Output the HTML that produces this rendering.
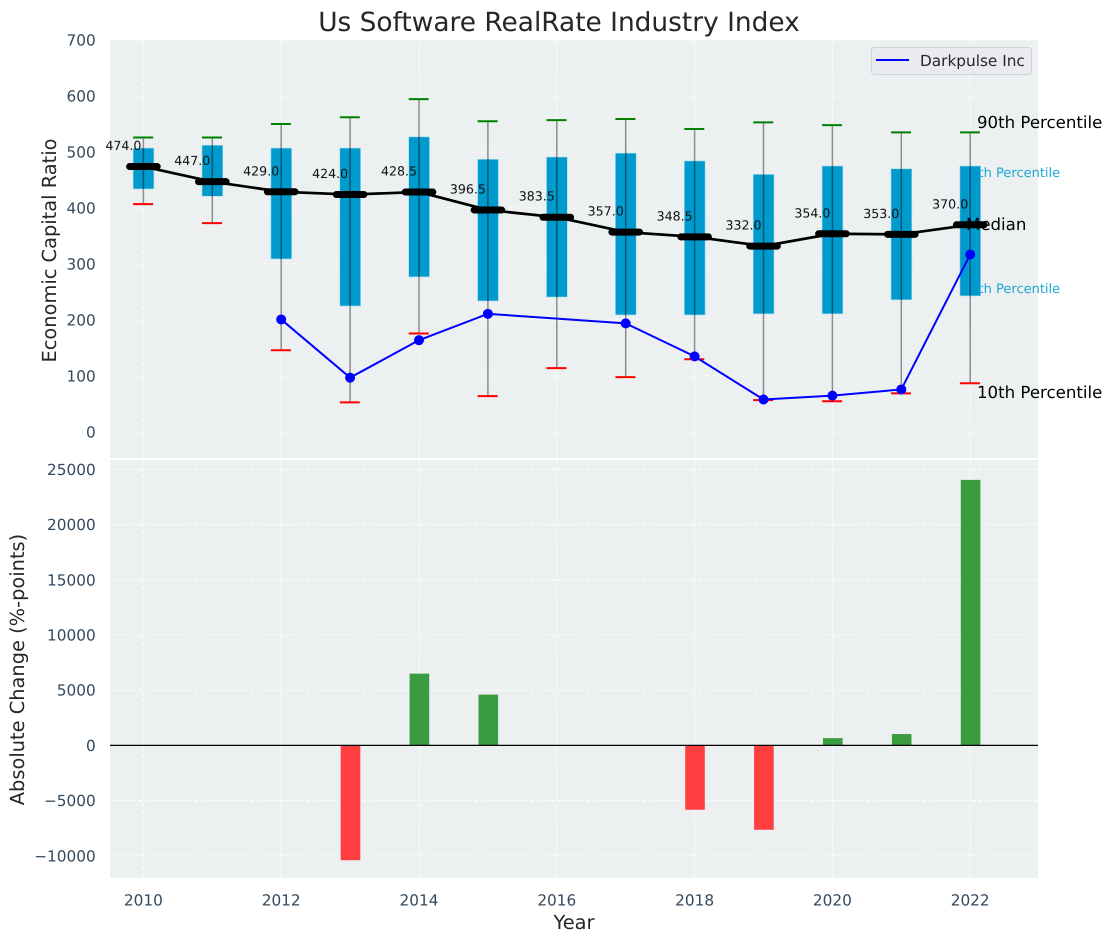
<!DOCTYPE html>
<html lang="en">
<head>
<meta charset="utf-8">
<title>Us Software RealRate Industry Index</title>
<style>
html,body{margin:0;padding:0;background:#fff;width:1112px;height:942px;overflow:hidden}
svg{display:block;font-family:"DejaVu Sans","Liberation Sans",sans-serif;text-rendering:geometricPrecision}
</style>
</head>
<body>
<svg id="chart" width="1112" height="942" viewBox="0 0 1112 942" xmlns="http://www.w3.org/2000/svg">
  <rect x="110" y="40" width="928" height="418" fill="#ecf0f1"/>
  <rect x="110" y="460" width="928" height="418" fill="#ecf0f1"/>
  <g id="grid"></g>
  <text x="962" y="177" font-size="13" fill="#1ea5d5">75th Percentile</text>
  <text x="962" y="293" font-size="13" fill="#1ea5d5">25th Percentile</text>
  <g id="boxes"></g>
  <g id="whiskers"></g>
  <g id="medians"></g>
  <g id="company"></g>
  <g id="bars"></g>
  <line x1="110" x2="1038" y1="745.4" y2="745.4" stroke="#000" stroke-width="1.3"/>
  <g id="ticks"></g>

  <text x="977" y="128" font-size="16.6" fill="#000">90th Percentile</text>
  <text x="966" y="230" font-size="16.6" fill="#000">Median</text>
  <text x="977" y="398" font-size="16.6" fill="#000">10th Percentile</text>

  <text x="559" y="31" font-size="26.4" fill="#262626" text-anchor="middle">Us Software RealRate Industry Index</text>
  <text x="574" y="929" font-size="19.4" fill="#262626" text-anchor="middle">Year</text>
  <text transform="translate(56 250.5) rotate(-90)" font-size="19.4" fill="#262626" text-anchor="middle">Economic Capital Ratio</text>
  <text transform="translate(24 669.5) rotate(-90)" font-size="19.4" fill="#262626" text-anchor="middle">Absolute Change (%-points)</text>

  <g>
    <rect x="871.5" y="47.5" width="160" height="27" rx="3" fill="#e9ebf0" stroke="#cfd1d4"/>
    <line x1="876" x2="909" y1="60" y2="60" stroke="#0000ff" stroke-width="2"/>
    <text x="920" y="66" font-size="15.3" fill="#262626">Darkpulse Inc</text>
  </g>
</svg>
<script>
const years = [2010,2011,2012,2013,2014,2015,2016,2017,2018,2019,2020,2021,2022];
const p90 = [526,526,550,562,594.5,555,557,559,541,553,548,535,535];
const p75 = [507,512,507,507,527,487,491,498,484,460,475,470,475];
const median = [474,447,429,424,428.5,396.5,383.5,357,348.5,332,354,353,370];
const p25 = [434,421,309,225,277,234,241,209,209,211,211,236,243];
const p10 = [407,373,146,53,176,64,114,98,130,57,55,69,87];
const company = [null,null,201,97,164,211,null,194,135,58,65,76,317];
const change = [0,0,0,-10400,6500,4600,0,0,-5830,-7640,660,1030,24050];
const xTicks = [2010,2012,2014,2016,2018,2020,2022];
const topTicks = [0,100,200,300,400,500,600,700];
const bottomTicks = [-10000,-5000,0,5000,10000,15000,20000,25000];

const NS = 'http://www.w3.org/2000/svg';
const xAxis = v => 143.4 + (v - 2010) * 68.9;
const yTop = v => 432 - v * 0.56;
const yBottom = v => 745.4 - v * 0.01104;
function make(tag, parent, attrs) {
  const el = document.createElementNS(NS, tag);
  for (const k in attrs) el.setAttribute(k, attrs[k]);
  parent.appendChild(el);
  return el;
}
const grid = document.getElementById('grid');
const boxes = document.getElementById('boxes');
const whiskers = document.getElementById('whiskers');
const medians = document.getElementById('medians');
const companyGroup = document.getElementById('company');
const bars = document.getElementById('bars');
const ticks = document.getElementById('ticks');
const gridStyle = {stroke:'#ffffff','stroke-width':1.1,'stroke-opacity':0.8,'stroke-dasharray':'4.5 2.5'};

xTicks.forEach(t => {
  [[40,458],[460,878]].forEach(r => {
    const l = make('line', grid, Object.assign({x1:xAxis(t),x2:xAxis(t),y1:r[0],y2:r[1]}, gridStyle));
    
    
  });
  const label = make('text', ticks, {x:xAxis(t),y:905.3,'font-size':15.3,fill:'#34495e','text-anchor':'middle'});
  label.textContent = t;
  
  
});
topTicks.forEach(t => {
  const l = make('line', grid, Object.assign({x1:110,x2:1038,y1:yTop(t),y2:yTop(t)}, gridStyle));
  
  
  const label = make('text', ticks, {x:95.7,y:yTop(t)+5.5,'font-size':15.3,fill:'#34495e','text-anchor':'end'});
  label.textContent = t;
  
  
});
bottomTicks.forEach(t => {
  const l = make('line', grid, Object.assign({x1:110,x2:1038,y1:yBottom(t),y2:yBottom(t)}, gridStyle));
  
  
  const label = make('text', ticks, {x:95.7,y:yBottom(t)+5.5,'font-size':15.3,fill:'#34495e','text-anchor':'end'});
  label.textContent = String(t).replace('-', '\u2212');
  
  
});

years.forEach((yr, i) => {
  const cx = xAxis(yr);
  const box = make('rect', boxes, {x:cx-10.3,y:yTop(p75[i]),width:20.8,height:yTop(p25[i])-yTop(p75[i]),fill:'#009acd',stroke:'#a6dcef','stroke-width':0.6});
  
  
  const w = make('line', whiskers, {x1:cx,x2:cx,y1:yTop(p90[i]),y2:yTop(p10[i]),stroke:'#000','stroke-opacity':0.42,'stroke-width':1.5});
  
  
  const hi = make('line', whiskers, {x1:cx-10.3,x2:cx+9.7,y1:yTop(p90[i]),y2:yTop(p90[i]),stroke:'#008000','stroke-width':2});
  
  
  const lo = make('line', whiskers, {x1:cx-10.3,x2:cx+9.7,y1:yTop(p10[i]),y2:yTop(p10[i]),stroke:'#ff0000','stroke-width':2});
  
  
});

const medianLine = make('polyline', medians, {points:years.map((yr,i)=>xAxis(yr)+','+yTop(median[i])).join(' '),fill:'none',stroke:'#000','stroke-width':2.7});


years.forEach((yr, i) => {
  const cx = xAxis(yr), cy = yTop(median[i]);
  const m = make('line', medians, {x1:cx-13.8,x2:cx+13.8,y1:cy,y2:cy,stroke:'#000','stroke-width':7,'stroke-linecap':'round'});
  
  
  const t = make('text', medians, {x:cx-20,y:cy-16.5,'font-size':12.6,fill:'#111','text-anchor':'middle'});
  t.textContent = median[i].toFixed(1);
  
  
});

const companyPoints = years.map((yr,i)=>[yr,company[i]]).filter(p=>p[1]!==null);
const companyLine = make('polyline', companyGroup, {points:companyPoints.map(p=>xAxis(p[0])+','+yTop(p[1])).join(' '),fill:'none',stroke:'#0000ff','stroke-width':2});


companyPoints.forEach(p => {
  const c = make('circle', companyGroup, {cx:xAxis(p[0]),cy:yTop(p[1]),r:5,fill:'#0000ff'});
  
  
});

years.forEach((yr, i) => {
  if (!change[i]) return;
  const top = Math.min(yBottom(change[i]), yBottom(0));
  const b = make('rect', bars, {x:xAxis(yr)-9.4,y:top,width:19.6,height:Math.abs(yBottom(change[i])-yBottom(0)),fill:change[i]>0?'#3a9c3f':'#ff3f3f'});
  
  
});
</script>
</body>
</html>
